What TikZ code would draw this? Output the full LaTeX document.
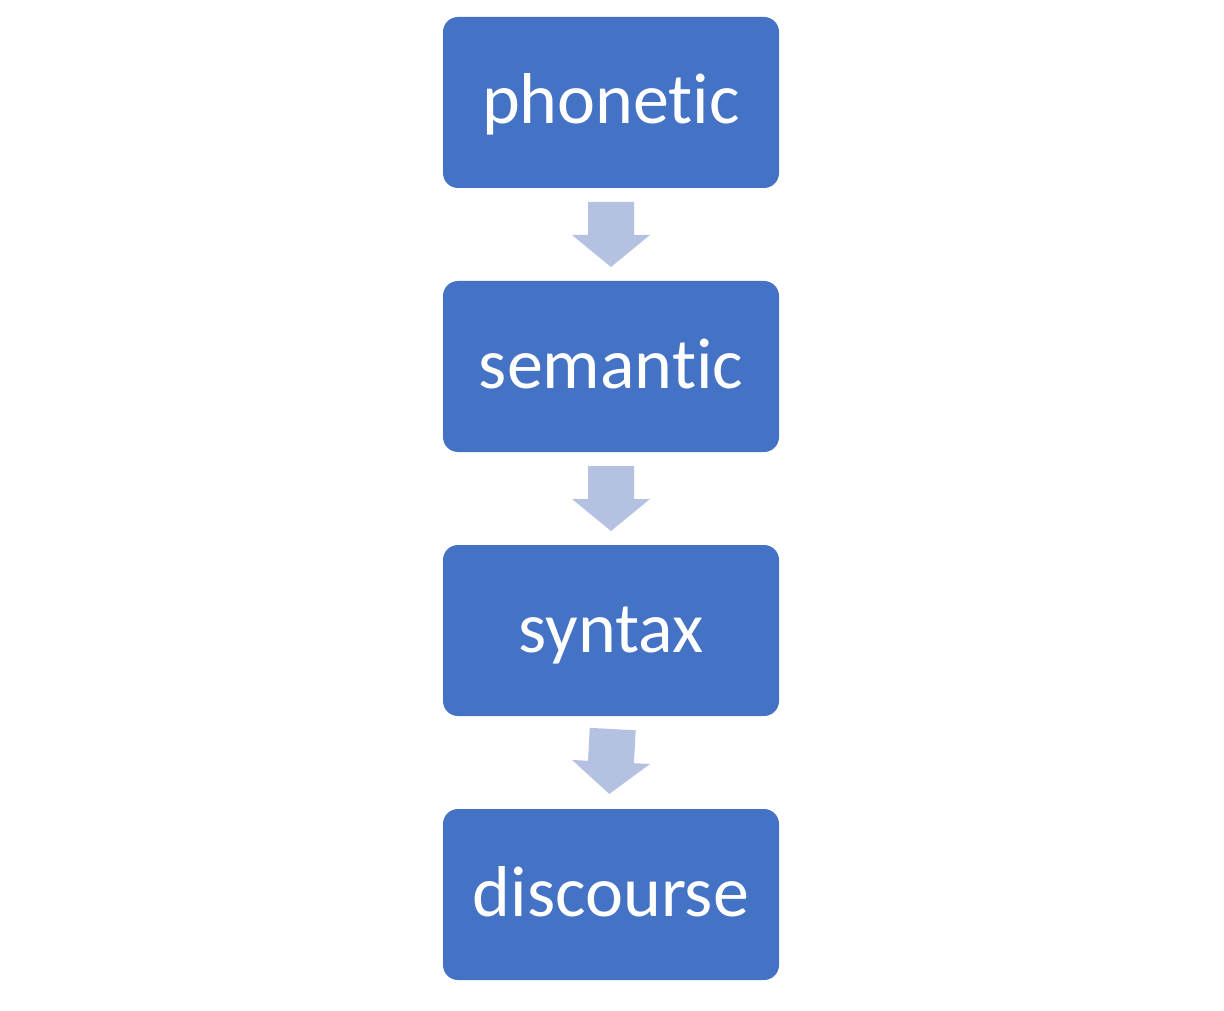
\documentclass[tikz,border=0pt]{standalone}
\usepackage{fontspec}
\setmainfont[Ligatures={NoCommon}]{Carlito}
\definecolor{boxblue}{HTML}{4472C4}
\definecolor{arrowblue}{HTML}{B4C1E1}
\begin{document}
\begin{tikzpicture}[x=1pt,y=-1pt,
  stagebox/.style={fill=boxblue, draw=none, rounded corners=15pt, minimum width=336pt, minimum height=171pt, inner sep=0pt},
  stagelabel/.style={text=white, font=\fontsize{72}{78}\selectfont, anchor=base, inner sep=0pt},
  downarrow/.style={fill=arrowblue, draw=none}]
\useasboundingbox (0,0) rectangle (1224,1011);
\node[stagebox] (b1) at (611,102.5) {};
\node[stagebox] (b2) at (611,366.5) {};
\node[stagebox] (b3) at (611,630.5) {};
\node[stagebox] (b4) at (611,894.5) {};
\node[stagelabel] (t1) at (611,124) {phonetic};
\node[stagelabel] (t2) at (611,388) {semantic};
\node[stagelabel] (t3) at (611,652) {syntax};
\node[stagelabel] (t4) at (611,916) {discourse};
\foreach \y [count=\i] in {202,466} {
  \fill[downarrow] (588,\y) -- (634,\y) -- (634,\y+33) -- (650,\y+33) -- (611,\y+65) -- (572,\y+33) -- (588,\y+33) -- cycle;
}
\begin{scope}[shift={(611,762)}, rotate=-3]
\fill[downarrow] (-23,-33) -- (23,-33) -- (23,0) -- (39,0) -- (0,32) -- (-39,0) -- (-23,0) -- cycle;
\end{scope}
\end{tikzpicture}
\end{document}
